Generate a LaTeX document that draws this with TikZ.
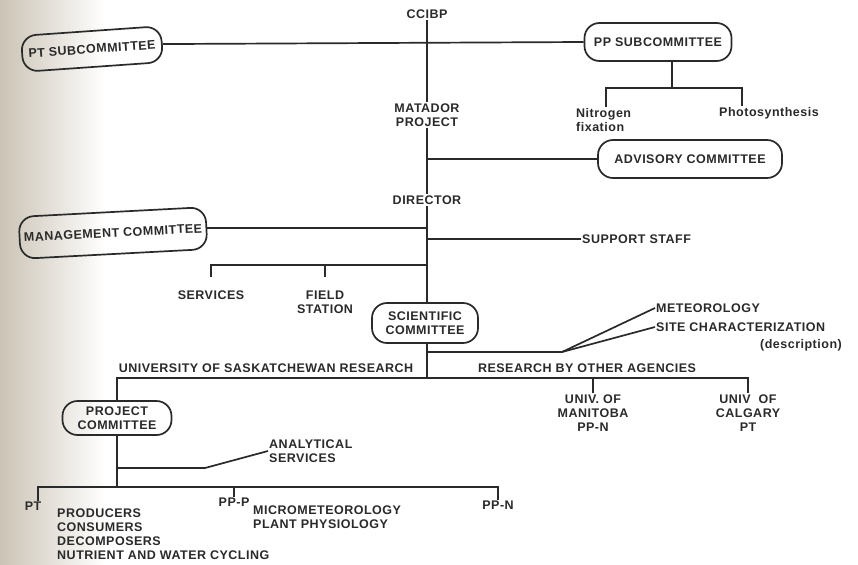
\documentclass[tikz,border=0pt]{standalone}
\usepackage{fontspec}
\newfontfamily\lab[LetterSpace=4]{Liberation Sans}
\usetikzlibrary{calc}
\definecolor{ink}{HTML}{2A2A2A}
\definecolor{scan}{HTML}{CBC3B5}
\tikzset{
  lbl/.style={font=\lab\bfseries\fontsize{12.5}{14}\selectfont, text=ink, inner sep=1pt, align=center},
  pill/.style={lbl, draw=ink, line width=1.7pt, rounded corners=15pt, inner sep=2pt},
  ln/.style={draw=ink, line width=1.7pt}
}
\begin{document}
\begin{tikzpicture}[x=1pt,y=-1pt]
\useasboundingbox (0,0) rectangle (858,564);
\fill[white] (0,0) rectangle (858,564);
\shade[left color=scan, right color=white] (0,0) rectangle (105,564);

% nodes
\node[lbl] (ccibp) at (427,14) {CCIBP};
\node[pill, minimum width=140pt, minimum height=36pt, rotate=4] (ptsub) at (92,49) {PT SUBCOMMITTEE};
\node[pill, minimum width=147pt, minimum height=38pt] (ppsub) at (658,42) {PP SUBCOMMITTEE};
\node[lbl] (matador) at (427,115) {MATADOR\\PROJECT};
\node[lbl, anchor=west, align=left] (nitro) at (575,120) {Nitrogen\\fixation};
\node[lbl] (photo) at (769,113) {Photosynthesis};
\node[pill, minimum width=184pt, minimum height=38pt] (advisory) at (690,159) {ADVISORY COMMITTEE};
\node[lbl] (director) at (427,200) {DIRECTOR};
\node[pill, minimum width=187pt, minimum height=42pt, rotate=3] (mgmt) at (113,233) {MANAGEMENT COMMITTEE};
\node[lbl, anchor=west] (support) at (581,239) {SUPPORT STAFF};
\node[lbl] (services) at (211,295) {SERVICES};
\node[lbl] (field) at (325,302) {FIELD\\STATION};
\node[pill, minimum width=106pt, minimum height=40pt] (scient) at (425,323) {SCIENTIFIC\\COMMITTEE};
\node[lbl, anchor=west] (meteo) at (655,308) {METEOROLOGY};
\node[lbl, anchor=west] (site) at (655,327) {SITE CHARACTERIZATION};
\node[lbl, anchor=east] (descr) at (843,345) {(description)};
\node[lbl] (usask) at (266,368) {UNIVERSITY OF SASKATCHEWAN RESEARCH};
\node[lbl] (other) at (587,368) {RESEARCH BY OTHER AGENCIES};
\node[lbl] (manitoba) at (593,413) {UNIV. OF\\MANITOBA\\PP-N};
\node[lbl] (calgary) at (748,413) {UNIV\ \ OF\\CALGARY\\PT};
\node[pill, minimum width=109pt, minimum height=34pt] (projcom) at (117,418) {PROJECT\\COMMITTEE};
\node[lbl, anchor=west, align=left] (anal) at (268,451) {ANALYTICAL\\SERVICES};
\node[lbl] (pt) at (33,506) {PT};
\node[lbl] (ppp) at (234,502) {PP-P};
\node[lbl, anchor=west, align=left] (micro) at (252,517) {MICROMETEOROLOGY\\PLANT PHYSIOLOGY};
\node[lbl, anchor=west, align=left] (prod) at (56,534) {PRODUCERS\\CONSUMERS\\DECOMPOSERS\\NUTRIENT AND WATER CYCLING};
\node[lbl] (ppn) at (498,505) {PP-N};

% junction coordinates
\coordinate (pj) at (672,88);
\coordinate (nl) at (606,88);
\coordinate (nr) at (742,88);
\coordinate (sj) at (427,265);
\coordinate (rj) at (427,378);
\coordinate (fj) at (562,352);
\coordinate (rl) at (117,378);
\coordinate (rr) at (748,378);
\coordinate (bl) at (38,487);
\coordinate (br) at (498,487);
\coordinate (aj) at (205,468);

% connectors
\draw[ln] (ccibp.south) -- (matador.north);
\draw[ln] (ptsub.east) -- (ppsub.west);
\draw[ln] (ppsub.south -| pj) -- (pj);
\draw[ln] (nl |- nitro.north) -- (nl) -- (nr) -- (nr |- photo.north);
\draw[ln] (matador.south) -- (director.north);
\draw[ln] (matador.south |- advisory.west) -- (advisory.west);
\draw[ln] (director.south) -- (director.south |- scient.north);
\draw[ln] (mgmt.east) -- (director.south |- mgmt.east);
\draw[ln] (director.south |- support.west) -- (support.west);
\draw[ln] (sj) -- (sj -| services) -- ++(0,12);
\draw[ln] (sj -| field) -- ++(0,12);
\draw[ln] (scient.south -| rj) -- (rj);
\draw[ln] (rj |- fj) -- (fj) -- (meteo.west);
\draw[ln] (fj) -- (site.west);
\draw[ln] (projcom.north) -- (projcom.north |- rl) -- (rr) -- (rr |- calgary.north);
\draw[ln] (manitoba.north |- rl) -- (manitoba.north);
\draw[ln] (projcom.south) -- (projcom.south |- bl);
\draw[ln] (bl |- pt.north) -- (bl) -- (br) -- (br |- ppn.north);
\draw[ln] (ppp.north |- bl) -- (ppp.north);
\draw[ln] (projcom.south |- aj) -- (aj) -- (anal.west);
\end{tikzpicture}
\end{document}
